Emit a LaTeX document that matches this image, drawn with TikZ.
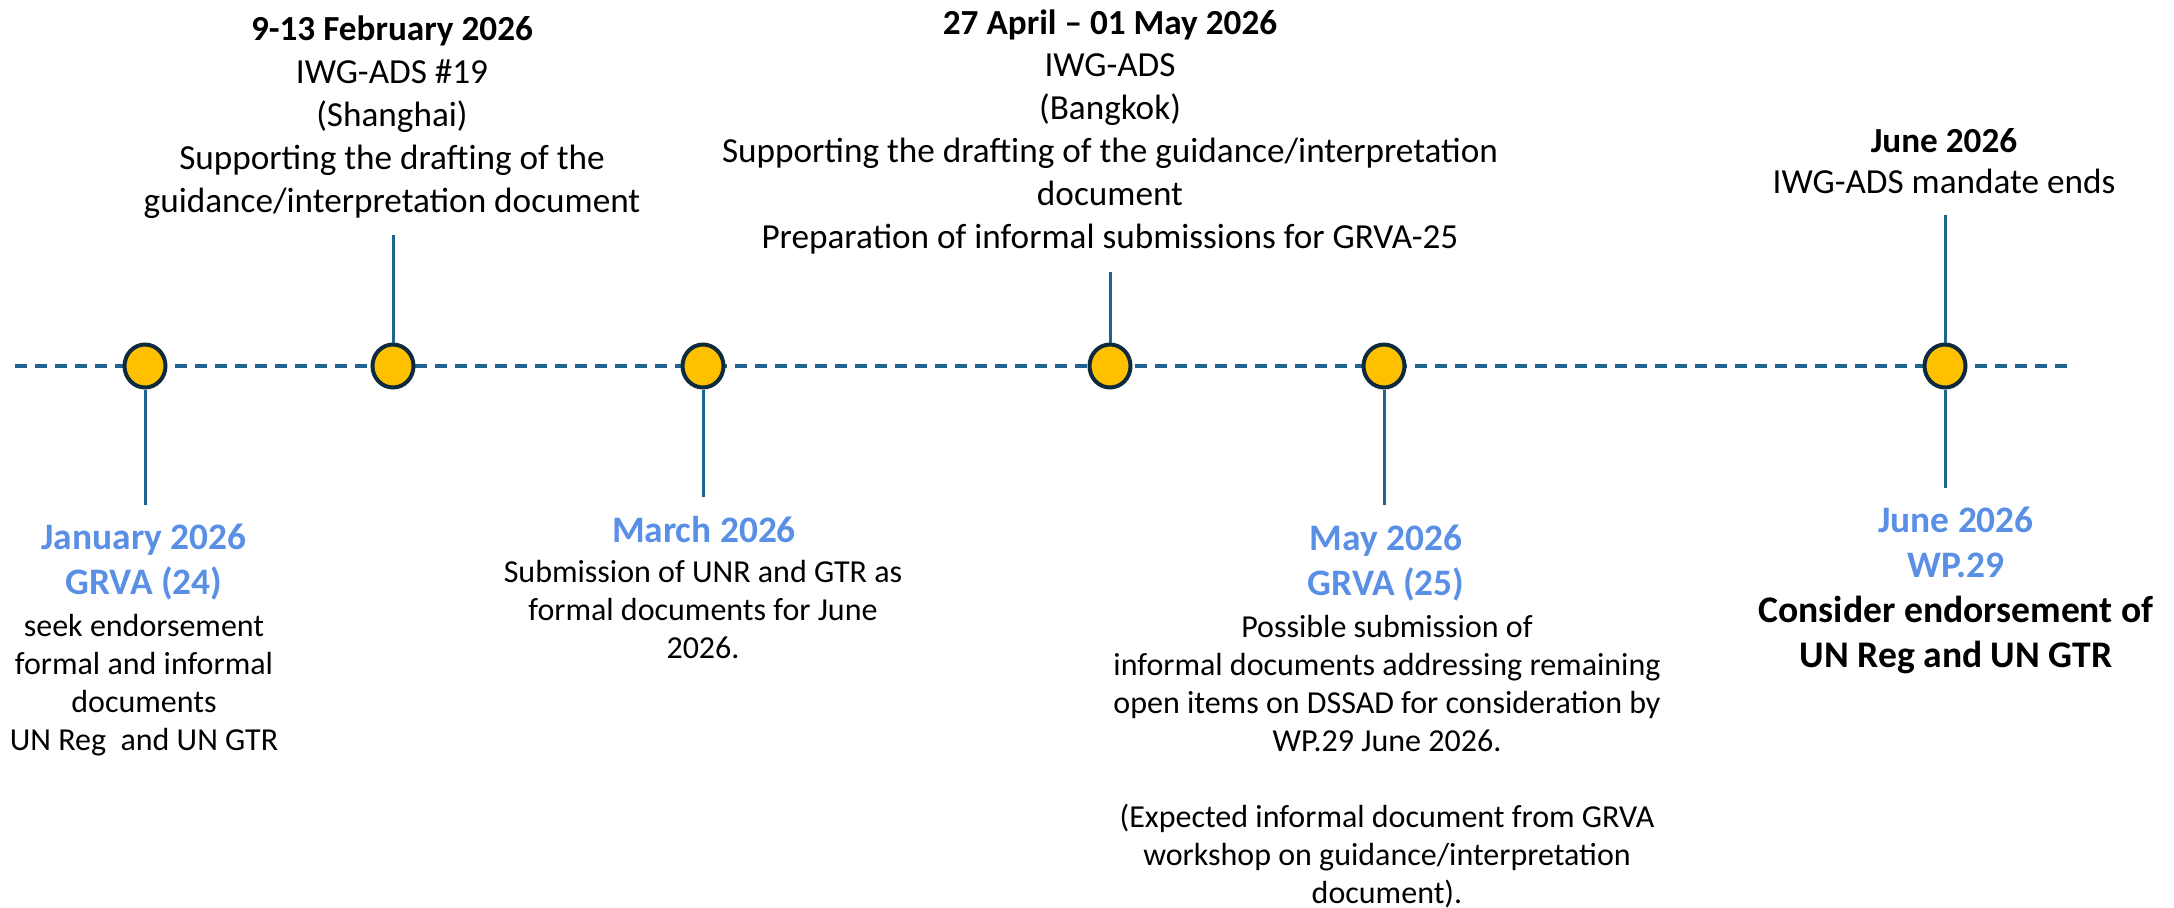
\documentclass[tikz,border=0pt]{standalone}
\usepackage{fontspec}
\setmainfont{Carlito}
\usetikzlibrary{shapes.geometric}
\definecolor{tl}{HTML}{1F6391}
\definecolor{ring}{HTML}{0E2B3D}
\definecolor{dot}{HTML}{FFC000}
\definecolor{mblue}{HTML}{5A8FE6}
\begin{document}
\begin{tikzpicture}[x=0.5pt,y=-0.5pt,
  axisline/.style={draw=tl, line width=2pt, dash pattern=on 6pt off 4pt},
  stem/.style={draw=tl, line width=1.5pt},
  milestone/.style={ellipse, draw=ring, line width=2pt, fill=dot, minimum width=20.5pt, minimum height=21.5pt, inner sep=0pt},
  lbl/.style={anchor=base, align=center, inner sep=0pt},
  toptext/.style={lbl, font=\fontsize{17.6}{21.4}\selectfont},
  bluetext/.style={lbl, text=mblue, font=\fontsize{18.7}{22.5}\selectfont\bfseries},
  bodytext/.style={lbl, font=\fontsize{16}{19}\selectfont},
  strongtext/.style={lbl, font=\fontsize{18.8}{22.5}\selectfont\bfseries}
]
\useasboundingbox (0,0) rectangle (2174,907);

% axis
\coordinate (L) at (15,366);
\coordinate (R) at (2071,366);
\draw[axisline] (L) -- (R);

% stem ends
\coordinate (s1) at (145,505);
\coordinate (s2) at (393,235);
\coordinate (s3) at (703,497);
\coordinate (s4) at (1110,272);
\coordinate (s5) at (1384,505);
\coordinate (s6a) at (1945,215);
\coordinate (s6b) at (1945,488);

% milestones
\node[milestone] (c1) at (145,366) {};
\node[milestone] (c2) at (393,366) {};
\node[milestone] (c3) at (703,366) {};
\node[milestone] (c4) at (1110,366) {};
\node[milestone] (c5) at (1384,366) {};
\node[milestone] (c6) at (1945,366) {};

\draw[stem] (c1.south) -- (s1);
\draw[stem] (s2) -- (c2.north);
\draw[stem] (c3.south) -- (s3);
\draw[stem] (s4) -- (c4.north);
\draw[stem] (c5.south) -- (s5);
\draw[stem] (s6a) -- (c6.north);
\draw[stem] (c6.south) -- (s6b);

% top labels (anchored at the baseline of the last line)
\node[toptext] (feb) at (392,212) {\textbf{9-13 February 2026}\\IWG-ADS \#19\\(Shanghai)\\Supporting the drafting of the\\guidance/interpretation document};
\node[toptext] (apr) at (1110,248) {\textbf{27 April – 01 May 2026}\\IWG-ADS\\(Bangkok)\\Supporting the drafting of the guidance/interpretation\\document\\Preparation of informal submissions for GRVA-25};
\node[toptext, font=\fontsize{17.6}{20.5}\selectfont] (juntop) at (1944,193) {\textbf{June 2026}\\IWG-ADS mandate ends};

% bottom labels
\node[bluetext] (jant) at (144,594) {January 2026\\GRVA (24)};
\node[bodytext] (janb) at (144,750) {seek endorsement\\formal and informal\\documents\\UN Reg\ \ and UN GTR};
\node[bluetext] (mart) at (704,542) {March 2026};
\node[bodytext] (marb) at (703,658) {Submission of UNR and GTR as\\formal documents for June\\2026.};
\node[bluetext] (mayt) at (1386,595) {May 2026\\GRVA (25)};
\node[bodytext] (mayb) at (1387,903) {Possible submission of\\informal documents addressing remaining\\open items on DSSAD for consideration by\\WP.29 June 2026.\\[19pt](Expected informal document from GRVA\\workshop on guidance/interpretation\\document).};
\node[bluetext] (junt) at (1956,577) {June 2026\\WP.29};
\node[strongtext] (junb) at (1956,667) {Consider endorsement of\\UN Reg and UN GTR};
\end{tikzpicture}
\end{document}
